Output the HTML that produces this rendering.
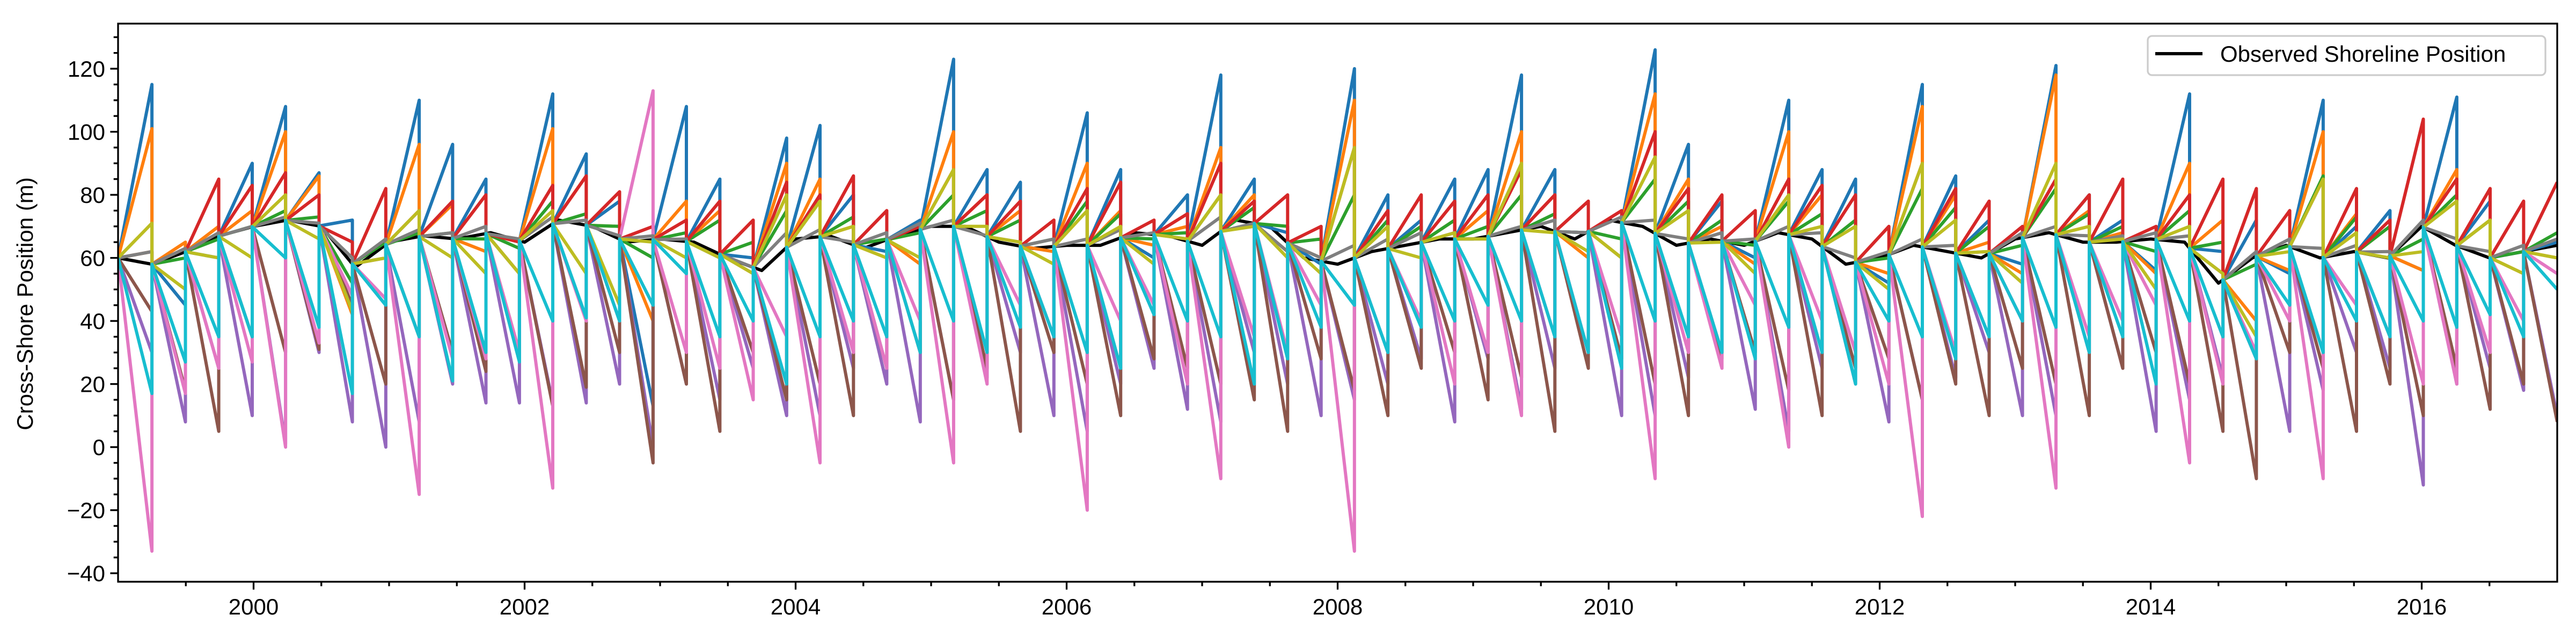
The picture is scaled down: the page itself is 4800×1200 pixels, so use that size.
<!DOCTYPE html>
<html><head><meta charset="utf-8">
<style>
html,body{margin:0;padding:0;background:#fff;}
svg{display:block;font-family:"Liberation Sans","DejaVu Sans",sans-serif;}
</style></head>
<body>
<svg id="chart" width="4800" height="1200" viewBox="0 0 4800 1200" xmlns="http://www.w3.org/2000/svg">
  <rect x="0" y="0" width="4800" height="1200" fill="#fff"/>
  <defs><clipPath id="plotclip"><rect x="220" y="44" width="4545" height="1040"/></clipPath></defs>
  <g id="series" clip-path="url(#plotclip)"></g>
  <g id="axes"></g>
  <text x="61" y="566" transform="rotate(-90 61 566)" text-anchor="middle" font-size="42" fill="#000">Cross-Shore Position (m)</text>
  <g>
    <rect x="4002" y="67" width="741" height="73" rx="8" fill="#fff" fill-opacity="0.8" stroke="#cccccc" stroke-width="3.3"/>
    <line x1="4016" y1="100" x2="4104" y2="100" stroke="#000" stroke-width="6"/>
    <text x="4137" y="115" font-size="42" fill="#000">Observed Shoreline Position</text>
  </g>
</svg>
<script>
// ---- data ----
const boundaries = [1999.0,1999.250,1999.497,1999.743,1999.990,2000.236,2000.483,2000.729,2000.976,2001.222,2001.469,2001.715,2001.962,2002.208,2002.455,2002.701,2002.948,2003.194,2003.441,2003.687,2003.934,2004.180,2004.427,2004.673,2004.920,2005.166,2005.413,2005.659,2005.906,2006.152,2006.399,2006.645,2006.892,2007.138,2007.385,2007.631,2007.878,2008.124,2008.371,2008.617,2008.864,2009.110,2009.357,2009.603,2009.850,2010.096,2010.343,2010.589,2010.836,2011.082,2011.329,2011.575,2011.822,2012.068,2012.315,2012.561,2012.808,2013.054,2013.301,2013.547,2013.794,2014.040,2014.287,2014.533,2014.780,2015.026,2015.273,2015.519,2015.766,2016.012,2016.259,2016.505,2016.752,2017.0];
const obsTimes = [1999,1999.25,1999.5,1999.75,2000,2000.25,2000.5,2000.75,2001,2001.25,2001.5,2001.75,2002,2002.25,2002.5,2002.75,2003,2003.25,2003.5,2003.75,2004,2004.25,2004.5,2004.75,2005,2005.25,2005.5,2005.75,2006,2006.25,2006.5,2006.75,2007,2007.25,2007.5,2007.75,2008,2008.25,2008.5,2008.75,2009,2009.25,2009.5,2009.75,2010,2010.25,2010.5,2010.75,2011,2011.25,2011.5,2011.75,2012,2012.25,2012.5,2012.75,2013,2013.25,2013.5,2013.75,2014,2014.25,2014.5,2014.75,2015,2015.25,2015.5,2015.75,2016,2016.25,2016.5,2016.75,2017];
const observed = [60,58,62,67,70,72,70,57,65,67,66,68,65,72,70,65,66,65,60,56,66,67,63,67,70,70,65,63,64,64,68,67,64,72,70,60,58,62,64,66,66,68,70,66,72,70,64,66,64,68,66,58,60,64,62,60,66,68,65,65,66,65,52,60,64,60,62,60,70,64,60,62,64];
const blueEnds = [115,45,60,90,108,87,72,60,110,96,85,55,112,93,78,13,108,85,60,98,102,80,62,72,123,88,84,62,106,88,60,80,118,85,68,58,120,80,72,85,88,118,88,68,60,126,96,78,60,110,88,85,52,115,86,72,58,121,80,72,56,112,62,72,55,110,70,75,56,111,78,62,65];
const orangeEnds = [101,65,70,75,100,86,42,60,96,77,62,55,101,86,70,40,78,75,55,90,85,70,60,58,100,80,75,62,90,75,64,70,95,80,62,60,110,75,70,72,75,100,80,60,60,112,85,70,58,100,80,72,55,108,80,65,55,118,75,68,55,90,72,40,56,100,74,70,56,88,72,55,60];
const greenEnds = [62,60,66,70,75,73,52,65,68,68,66,63,78,74,70,60,68,72,65,75,78,73,66,68,80,75,72,66,78,74,66,68,80,76,70,66,80,72,70,72,70,80,74,68,66,85,78,72,64,78,74,72,60,82,76,70,64,82,74,70,62,75,65,58,64,86,73,70,66,80,72,62,68];
const redEnds = [62,63,85,83,87,80,65,82,75,78,80,65,83,86,81,70,72,78,72,84,80,86,75,70,88,80,78,72,82,84,72,74,90,78,80,70,95,75,80,78,80,88,80,78,75,100,82,80,75,85,83,80,70,90,82,78,70,85,80,85,70,80,85,82,75,85,82,72,104,85,82,78,84];
const purpleEnds = [30,8,25,10,1,30,8,0,8,20,14,14,14,14,20,0,20,15,25,10,10,25,20,8,15,22,30,10,5,20,25,12,8,30,20,10,15,20,28,8,28,12,25,30,10,10,22,30,12,5,25,20,8,15,22,30,10,10,30,25,5,15,22,28,5,18,30,25,-12,20,25,18,10];
const brownEnds = [43,18,5,35,30,31,45,20,35,30,24,30,13,19,30,-5,20,5,30,15,20,10,25,30,15,25,5,30,20,10,28,25,20,15,5,28,18,10,25,30,15,22,5,25,28,20,10,28,30,18,10,25,28,15,20,10,25,20,10,25,30,20,5,-10,30,25,5,20,10,25,12,20,8];
const pinkEnds = [-33,17,25,27,0,33,48,47,-15,28,28,30,-13,40,40,113,30,25,15,35,-5,30,25,40,-5,20,45,35,-20,40,45,20,-10,35,30,45,-33,30,40,20,30,10,35,30,35,-10,30,25,45,0,40,30,20,-22,30,35,40,-13,35,40,45,-5,20,30,40,-10,45,35,20,20,30,40,55];
const grayEnds = [62,63,68,70,73,71,60,66,69,68,70,66,73,72,67,67,66,60,57,68,69,65,68,71,72,67,65,66,66,69,68,66,73,71,62,60,64,66,68,68,66,70,72,68,73,72,66,68,66,70,68,60,62,66,64,62,68,70,67,67,68,67,55,62,66,63,64,62,72,66,62,64,66];
const oliveEnds = [71,50,60,60,80,66,43,60,75,60,55,55,75,55,45,65,60,60,55,80,78,70,60,60,88,70,65,58,75,70,58,66,80,70,60,55,95,70,60,68,66,90,68,62,60,92,75,65,55,80,70,70,50,90,72,62,52,90,70,66,50,70,55,35,62,85,68,60,62,78,72,55,60];
const cyanEnds = [17,27,35,35,60,38,17,45,35,21,30,27,40,41,40,45,55,35,40,20,35,40,35,30,40,30,38,35,30,25,42,40,35,20,28,38,45,30,38,40,45,40,35,30,25,40,35,30,28,38,30,20,40,35,28,35,40,38,30,35,20,40,35,28,45,30,40,35,40,38,42,35,50];
const seriesNames = ["blue","orange","green","red","purple","brown","pink","gray","olive","cyan"];
const seriesColors = ["#1f77b4","#ff7f0e","#2ca02c","#d62728","#9467bd","#8c564b","#e377c2","#7f7f7f","#bcbd22","#17becf"];
const seriesData = [blueEnds,orangeEnds,greenEnds,redEnds,purpleEnds,brownEnds,pinkEnds,grayEnds,oliveEnds,cyanEnds];
const yTicks = [-40,-20,0,20,40,60,80,100,120];
const xTicks = [2000,2002,2004,2006,2008,2010,2012,2014,2016];

// ---- scales ----
const X0=220,X1=4765,Y0=44,Y1=1084;
const xMin=1999.0,xMax=2017.0,yMin=-42.7,yMax=134.3;
function xs(t){return X0+(t-xMin)/(xMax-xMin)*(X1-X0);}
function ys(v){return Y1-(v-yMin)/(yMax-yMin)*(Y1-Y0);}
function obsAt(t){
  for(let i=0;i<obsTimes.length-1;i++){
    if(t>=obsTimes[i]&&t<=obsTimes[i+1]){
      const f=(t-obsTimes[i])/(obsTimes[i+1]-obsTimes[i]);
      return observed[i]+f*(observed[i+1]-observed[i]);
    }
  }
  return observed[observed.length-1];
}
const NS="http://www.w3.org/2000/svg";
const sg=document.getElementById('series');
const ag=document.getElementById('axes');
const LW='6';

// observed line
{
  let d="";
  obsTimes.forEach((t,i)=>{d+=(i?"L":"M")+xs(t).toFixed(1)+","+ys(observed[i]).toFixed(1);});
  const p=document.createElementNS(NS,'path');
  p.setAttribute('d',d);p.setAttribute('fill','none');p.setAttribute('stroke','#000');
  p.setAttribute('stroke-width',LW);p.setAttribute('stroke-linejoin','round');
  
  
  sg.appendChild(p);
}
// forecast series (sawtooth segments reset to observed)
seriesData.forEach((ends,si)=>{
  let d="";
  for(let s=0;s<ends.length;s++){
    const t0=boundaries[s],t1=boundaries[s+1];
    d+=(s?"L":"M")+xs(t0).toFixed(1)+","+ys(obsAt(t0)).toFixed(1);
    d+="L"+xs(t1).toFixed(1)+","+ys(ends[s]).toFixed(1);
  }
  const p=document.createElementNS(NS,'path');
  p.setAttribute('d',d);p.setAttribute('fill','none');p.setAttribute('stroke',seriesColors[si]);
  p.setAttribute('stroke-width',LW);p.setAttribute('stroke-linejoin','round');
  
  
  sg.appendChild(p);
});

// axes frame
{
  const r=document.createElementNS(NS,'rect');
  r.setAttribute('x',X0);r.setAttribute('y',Y0);r.setAttribute('width',X1-X0);r.setAttribute('height',Y1-Y0);
  r.setAttribute('fill','none');r.setAttribute('stroke','#000');r.setAttribute('stroke-width','3.3');
  
  
  ag.appendChild(r);
}
function tick(x1,y1,x2,y2,name){
  const l=document.createElementNS(NS,'line');
  l.setAttribute('x1',x1);l.setAttribute('y1',y1);l.setAttribute('x2',x2);l.setAttribute('y2',y2);
  l.setAttribute('stroke','#000');l.setAttribute('stroke-width','3.3');
  
  
  ag.appendChild(l);
}
function label(x,y,txt,anchor,name){
  const t=document.createElementNS(NS,'text');
  t.setAttribute('x',x);t.setAttribute('y',y);t.setAttribute('text-anchor',anchor);
  t.setAttribute('font-size','42');t.setAttribute('fill','#000');
  t.textContent=txt;
  
  
  ag.appendChild(t);
}
for(let v=-40;v<=130;v+=5){ if(v%20!==0) tick(X0,ys(v),X0-8.3,ys(v),'y-minor-tick'); }
yTicks.forEach(v=>{
  tick(X0,ys(v),X0-14.6,ys(v),'y-major-tick');
  label(X0-24,ys(v)+15,v<0?"\u2212"+Math.abs(v):String(v),'end','y-tick-label');
});
for(let t=1999.5;t<2017;t+=0.5){ if(Math.abs(t%2)>1e-6) tick(xs(t),Y1,xs(t),Y1+8.3,'x-minor-tick'); }
xTicks.forEach(t=>{
  tick(xs(t),Y1,xs(t),Y1+14.6,'x-major-tick');
  label(xs(t),Y1+61,String(t),'middle','x-tick-label');
});
</script>
</body></html>
